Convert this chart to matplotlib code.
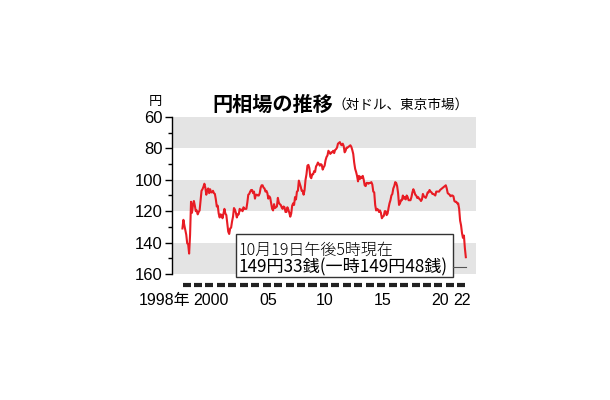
import matplotlib
matplotlib.use("Agg")
import matplotlib.pyplot as plt
import numpy as np
from matplotlib.patches import Rectangle
from matplotlib.transforms import blended_transform_factory

plt.rcParams["font.family"] = ["Liberation Sans", "Noto Sans CJK JP", "DejaVu Sans"]

# monthly USD/JPY (Tokyo market), Jan 1998 .. Oct 2022
start_year = 1998
usd_jpy = [
    131, 125.5, 129, 132, 135, 140.5, 141, 147, 135, 114, 121, 116,          # 1998
    113.5, 116.5, 120, 119.5, 122, 120.5, 119.5, 113.5, 107, 106, 104.5, 102.5,  # 1999
    105, 109.5, 106.5, 105.5, 108.5, 106, 108, 108, 107, 108.5, 109, 112.5,  # 2000
    117, 116.5, 121.5, 124, 122, 122.5, 124.5, 121.5, 118.5, 121.5, 122.5, 127.5,  # 2001
    133, 134.5, 131, 130.5, 126.5, 123.5, 118, 119, 121, 124, 122, 122,      # 2002
    118.5, 119.5, 119, 120, 117.5, 118.5, 118.5, 118.5, 114.5, 109.5, 109, 107.5,  # 2003
    106.5, 106.5, 108.5, 107.5, 112, 109.5, 109.5, 110, 110, 108.5, 105, 103.5,  # 2004
    103.5, 105, 105.5, 107.5, 107, 108.5, 112, 110.5, 111.5, 115, 118.5, 119.5,  # 2005
    115.5, 118, 117.5, 117, 111.5, 114.5, 115.5, 116, 117.5, 118.5, 117, 117.5,  # 2006
    120.5, 120.5, 117.5, 119, 121, 123.5, 121.5, 116.5, 115, 116, 111, 112.5,  # 2007
    107.5, 107, 100.5, 102.5, 104.5, 107, 107, 109.5, 106.5, 100, 96.5, 91,  # 2008
    90.5, 92.5, 98, 99, 96.5, 96.5, 94.5, 95, 91.5, 90.5, 89, 90,            # 2009
    91, 90, 90.5, 93.5, 92, 91, 87.5, 85.5, 84.5, 81.5, 82.5, 83.5,          # 2010
    82.5, 82.5, 81.5, 83, 81, 80.5, 79.5, 77, 76.5, 76, 77.5, 78,            # 2011
    77, 78.5, 82.5, 81.5, 79.5, 79.5, 79, 78.5, 78, 79, 81, 83.5,            # 2012
    89, 93, 95, 97.5, 101, 97.5, 99.5, 98, 99, 97.5, 100, 103.5,             # 2013
    104, 102, 102, 102.5, 102, 102, 101.5, 103, 107.5, 108, 116, 119.5,      # 2014
    118.5, 119, 120.5, 119.5, 121, 124.5, 123.5, 123, 120, 120, 122.5, 121.5,  # 2015
    118, 115, 113, 110, 109, 105.5, 104, 101.5, 102, 104, 108.5, 116,        # 2016
    115, 113, 113, 110, 112, 111, 112.5, 110, 111, 113, 113, 113,            # 2017
    111, 108, 106, 107.5, 109.5, 110, 111.5, 111, 112, 112.5, 113.5, 112.5,  # 2018
    109, 110.5, 111, 111.5, 110, 108, 108, 106.5, 107.5, 108, 109, 109,      # 2019
    109.5, 110, 107.5, 107.5, 107.5, 107.5, 106.5, 106, 105.5, 105, 104.5, 104,  # 2020
    103.5, 105.5, 108.5, 109, 109.5, 110.5, 110, 110, 110.5, 113.5, 114, 114,  # 2021
    115, 115, 118.5, 126, 129, 134, 137, 135.5, 143.5, 149.3,                # 2022
]
band_ranges = [(60, 80), (100, 120), (140, 160)]
y_ticks = [60, 80, 100, 120, 140, 160]
year_marks = list(range(1998, 2023))
x_label_years = [1998, 2000, 2005, 2010, 2015, 2020, 2022]
x_label_text = ["1998年", "2000", "05", "10", "15", "20", "22"]

RED = "#e81c24"
GRAY = "#e4e4e4"
X_MIN, X_MAX = 1997.13, 2023.68

x = start_year + (np.arange(len(usd_jpy)) + 0.5) / 12

fig = plt.figure(figsize=(6.1, 4.0), dpi=100)
ax = fig.add_axes([172 / 610, 126 / 400, 304 / 610, 157 / 400])

for lo, hi in band_ranges:
    ax.axhspan(lo, hi, color=GRAY, lw=0, zorder=0)

ax.plot(x, usd_jpy, color=RED, lw=1.5, zorder=3)

ax.set_xlim(X_MIN, X_MAX)
ax.set_ylim(160, 60)
ax.set_yticks(y_ticks)
ax.set_yticks(np.arange(70, 160, 20), minor=True)
ax.tick_params(axis="y", which="major", length=5, width=1, pad=2, labelsize=12)
ax.tick_params(axis="y", which="minor", length=3, width=1)
ax.set_xticks([])
for side in ["top", "right", "bottom"]:
    ax.spines[side].set_visible(False)
ax.spines["left"].set_linewidth(1)

# year dashes under the plot
trans = blended_transform_factory(ax.transData, ax.transAxes)
for yr in year_marks:
    ax.plot([yr + 0.05, yr + 0.75], [-0.07, -0.07], color="#222222", lw=3,
            solid_capstyle="butt", transform=trans, clip_on=False)

for yr, lab in zip(x_label_years, x_label_text):
    if yr == 1998:
        ax.text(yr + 0.75, -0.17, lab, transform=trans, ha="right", va="center",
                fontsize=11.5)
    else:
        ax.text(yr + 0.5, -0.17, lab, transform=trans, ha="center", va="center",
                fontsize=11.5)

# annotation box
box = Rectangle((0.2105, -0.019), 0.7135, 0.274, transform=ax.transAxes,
                facecolor="white", edgecolor="#333333", lw=1, zorder=4, clip_on=False)
ax.add_patch(box)
ax.text(0.219, 0.153, "10月19日午後5時現在", transform=ax.transAxes, ha="left",
        va="center", fontsize=11.5, family=["Noto Sans CJK JP"], fontweight="light",
        zorder=5)
ax.text(0.219, 0.045, "149円33銭(一時149円48銭)", transform=ax.transAxes, ha="left",
        va="center", fontsize=12.3, family=["Noto Sans CJK JP"], fontweight="normal",
        zorder=5)
ax.plot([0.924, (x[-1] - X_MIN) / (X_MAX - X_MIN)], [0.045, 0.045],
        transform=ax.transAxes, color="#555555", lw=0.8, zorder=4, clip_on=False)

fig.text(212 / 610, 1 - 104 / 400, "円相場の推移", ha="left", va="center",
         fontsize=14.5, fontweight="bold", family=["Noto Sans CJK JP"])
fig.text(332 / 610, 1 - 105 / 400, "（対ドル、東京市場）", ha="left", va="center",
         fontsize=9.8, family=["Noto Sans CJK JP"])
fig.text(155 / 610, 1 - 101 / 400, "円", ha="center", va="center",
         fontsize=9.5, family=["Noto Sans CJK JP"])

fig.savefig("out.png", dpi=100)
